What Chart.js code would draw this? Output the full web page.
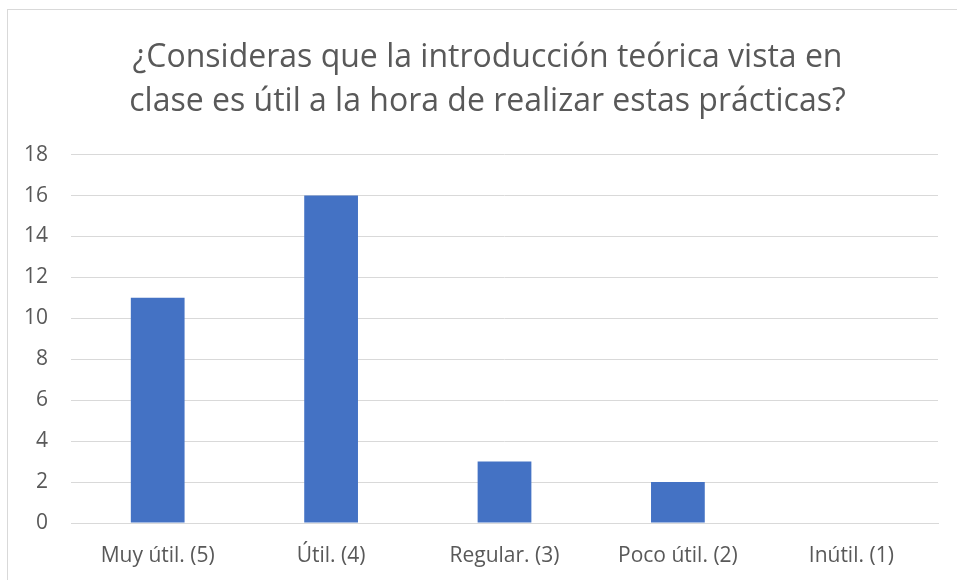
<!DOCTYPE html>
<html>
<head>
<meta charset="utf-8">
<script src="https://cdn.jsdelivr.net/npm/chart.js@4"></script>
<style>
  body { margin: 0; background: #fff; overflow: hidden; }
  #frame { position: absolute; left: 7px; top: 9px; width: 960px; height: 580px; border: 1px solid #d9d9d9; }
  #wrap { position: absolute; left: 0; top: 0; width: 975px; height: 580px; }
</style>
</head>
<body>
<div id="frame"></div>
<div id="wrap"><canvas id="chart"></canvas></div>
<script>
// --- Data ---
const categories = ["Muy útil. (5)", "Útil. (4)", "Regular. (3)", "Poco útil. (2)", "Inútil. (1)"];
const responses = [11, 16, 3, 2, 0];
const titleLines = [
  "¿Consideras que la introducción teórica vista en",
  "clase es útil a la hora de realizar estas prácticas?"
];
const yMax = 18;
const yStep = 2;

Chart.defaults.font.family = "'Open Sans', sans-serif";
Chart.defaults.color = "#595959";

const ctx = document.getElementById("chart").getContext("2d");
new Chart(ctx, {
  type: "bar",
  data: {
    labels: categories,
    datasets: [
      {
        data: responses,
        backgroundColor: "#4472C4",
        categoryPercentage: 1,
        barPercentage: 0.31,
      },
    ],
  },
  options: {
    responsive: true,
    maintainAspectRatio: false,
    animation: false,
    layout: { padding: 0 },
    plugins: {
      legend: { display: false },
      tooltip: { enabled: false },
      title: {
        display: true,
        text: titleLines,
        color: "#595959",
        font: { size: 32, weight: "normal", lineHeight: 1.4 },
        padding: { top: 35, bottom: 30 },
      },
    },
    scales: {
      y: {
        min: 0,
        max: yMax,
        ticks: { stepSize: yStep, padding: 23, font: { size: 21 } },
        grid: { color: "#d9d9d9", drawTicks: false },
        border: { display: false },
        afterFit: (scale) => { scale.width = 71; },
      },
      // empty right axis just to hold space, so the title centres on the frame
      yRight: {
        axis: "y",
        position: "right",
        min: 0,
        max: yMax,
        ticks: { display: false },
        grid: { display: false },
        border: { display: false },
        afterFit: (scale) => { scale.width = 37; },
      },
      x: {
        ticks: { padding: 12, font: { size: 21 } },
        grid: { display: false },
        border: { color: "#d9d9d9" },
        afterFit: (scale) => { scale.height = 57; },
      },
    },
  },
});
</script>
</body>
</html>
